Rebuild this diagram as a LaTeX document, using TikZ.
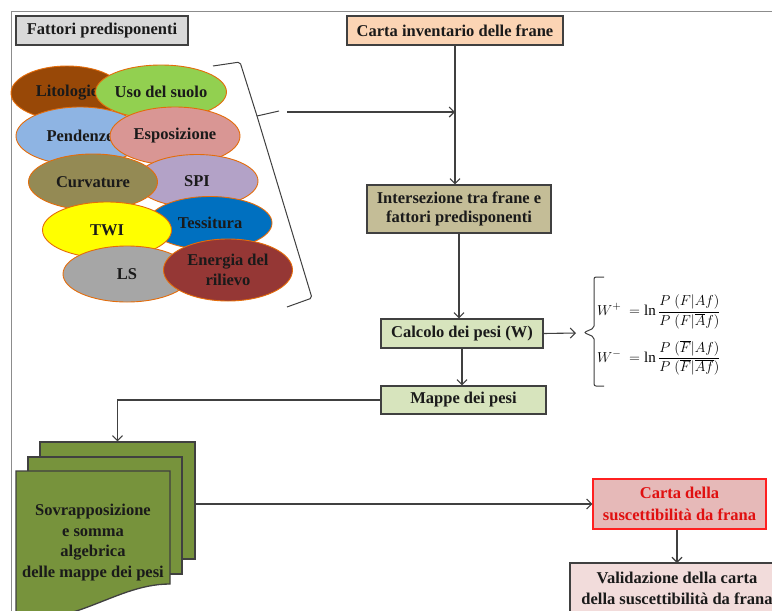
\documentclass[tikz,border=0pt]{standalone}
\usepackage{fontspec}
\setmainfont{Liberation Serif}
\usetikzlibrary{shapes.geometric,arrows.meta}
\definecolor{lineg}{HTML}{404040}
\definecolor{frameg}{HTML}{8C8C8C}
\definecolor{cfat}{HTML}{D9D9D9}
\definecolor{cinv}{HTML}{FBD4B4}
\definecolor{cint}{HTML}{C4BD97}
\definecolor{cgreen}{HTML}{D7E4BD}
\definecolor{cdoc}{HTML}{77933C}
\definecolor{csusc}{HTML}{E6B9B8}
\definecolor{credb}{HTML}{FF2020}
\definecolor{credt}{HTML}{E01010}
\definecolor{cval}{HTML}{F2DCDB}
\definecolor{ebord}{HTML}{E46C0A}
\definecolor{elit}{HTML}{984807}
\definecolor{euso}{HTML}{92D050}
\definecolor{epen}{HTML}{8EB4E3}
\definecolor{eesp}{HTML}{D99694}
\definecolor{ecur}{HTML}{948A54}
\definecolor{espi}{HTML}{B3A2C7}
\definecolor{etes}{HTML}{0070C0}
\definecolor{etwi}{HTML}{FFFF00}
\definecolor{els}{HTML}{A6A6A6}
\definecolor{eene}{HTML}{953735}
\definecolor{txt}{HTML}{1A1A1A}
\begin{document}
\begin{tikzpicture}[x=1pt,y=-1pt,
  font=\fontsize{16.5}{20}\selectfont\bfseries,
  box/.style={draw=lineg, line width=1.3pt, inner sep=0pt, align=center, text=txt},
  oval/.style={ellipse, draw=ebord, line width=0.9pt, inner sep=0pt, align=center, text=txt},
  conn/.style={draw=lineg, line width=1.1pt},
  arr/.style={conn, -{Straight Barb[length=5pt,width=10pt]}},
  docbox/.style={draw=lineg, line width=1.3pt, fill=cdoc, inner sep=0pt},
  formula/.style={anchor=west, inner sep=0pt, font=\fontsize{15}{17}\selectfont}
]
\clip (0,0) rectangle (772,611);
\fill[white] (0,0) rectangle (772,611);
% frame
\draw[frameg, line width=1pt] (11,611) -- (11,11) -- (772,11);

% top boxes
\node[box, fill=cfat, minimum width=172pt, minimum height=29pt] (fat) at (102,30.5) {Fattori predisponenti};
\node[box, fill=cinv, minimum width=216pt, minimum height=29pt] (inv) at (455,30.5) {Carta inventario delle frane};

% ellipses
\node[oval, fill=elit, minimum width=112pt, minimum height=54pt] (lit) at (67,93) {Litologie};
\node[oval, fill=euso, minimum width=129pt, minimum height=54pt] (uso) at (161,92) {Uso del suolo};
\node[oval, fill=epen, minimum width=128pt, minimum height=58pt] (pen) at (80,136) {Pendenze};
\node[oval, fill=eesp, minimum width=130pt, minimum height=58pt] (esp) at (175,136) {Esposizione};
\node[oval, fill=espi, minimum width=122pt, minimum height=53pt] (spi) at (197,181) {SPI};
\node[oval, fill=ecur, minimum width=129pt, minimum height=56pt] (cur) at (93,182) {Curvature};
\node[oval, fill=etes, minimum width=124pt, minimum height=53pt] (tes) at (210,223) {Tessitura};
\node[oval, fill=etwi, minimum width=129pt, minimum height=56pt] (twi) at (107,230) {TWI};
\node[oval, fill=els, minimum width=128pt, minimum height=56pt] (ls) at (127,274) {LS};
\node[oval, fill=eene, minimum width=129pt, minimum height=62pt] (ene) at (228,270) {Energia del\\rilievo};

% brace right of ellipses
\draw[conn, line width=1pt, rounded corners=2pt] (213,66) -- (240,62) -- (257,116) -- (312,298) -- (287,307);
\draw[conn, line width=1pt] (257,116) -- (279,111);
\coordinate (bt) at (287,112);

% middle column
\node[box, fill=cint, minimum width=184pt, minimum height=48pt, font=\fontsize{16.5}{19}\selectfont\bfseries] (int) at (459,209) {Intersezione tra frane e\\fattori predisponenti};
\node[box, fill=cgreen, minimum width=162pt, minimum height=29pt] (calc) at (462,333.5) {Calcolo dei pesi (W)};
\node[box, fill=cgreen, minimum width=165pt, minimum height=28pt] (map) at (463.5,400) {Mappe dei pesi};

\draw[arr] (inv.south) -- (inv.south |- int.north);
\draw[arr] (bt) -- (bt -| inv.south);
\draw[arr] (int.south) -- (int.south |- calc.north);
\draw[arr] (calc.south) -- (calc.south |- map.north);

% formulas
\coordinate (btip) at (576,333);
\draw[arr] (calc.east) -- (btip);
\draw[conn, line width=1pt, rounded corners=2pt] (604,277) -- (594,277) -- (594,328) -- (584,332.5) -- (594,337) -- (594,386) -- (604,386);
\node[formula] (wp) at (597,312)
  {$\displaystyle W^{+}\ = \ln\frac{P\ (F|Af)}{P\ (F|\overline{A}f)}$};
\node[formula] (wm) at (597,358)
  {$\displaystyle W^{-}\ = \ln\frac{P\ (\overline{F}|Af)}{P\ \bigl(\overline{F}\big|\overline{Af}\bigr)}$};

% stacked documents
\node[docbox, minimum width=155pt, minimum height=117pt] (d3) at (117.5,500.5) {};
\node[docbox, minimum width=154pt, minimum height=117pt] (d2) at (105,515.5) {};
\draw[docbox] (16,471) -- (170,471) -- (170,584) .. controls (140,584) and (115,597) .. (85,608) .. controls (55,619) and (35,620) .. (16,614) -- cycle;
\node[align=center, text=txt, inner sep=0pt, font=\fontsize{16.5}{20.5}\selectfont\bfseries] (sov) at (93,542.5) {Sovrapposizione\\e somma\\algebrica\\delle mappe dei pesi};

\draw[arr] (map.west) -| (d3.north);

% right column
\node[box, draw=credb, fill=csusc, text=credt, minimum width=173pt, minimum height=50pt, font=\fontsize{16.5}{22}\selectfont\bfseries] (susc) at (679.5,504) {Carta della\\suscettibilit\`a da frana};
\draw[arr] (d3.east |- susc.west) -- (susc.west);
\draw[box, fill=cval] (570,563) rectangle (800,660);
\coordinate (valtop) at (677,563);
\node[align=center, text=txt, inner sep=0pt, font=\fontsize{16.5}{21}\selectfont\bfseries] (val) at (677,588) {Validazione della carta\\della suscettibilit\`a da frana};
\draw[arr] (susc.south -| valtop) -- (valtop);
\end{tikzpicture}
\end{document}
